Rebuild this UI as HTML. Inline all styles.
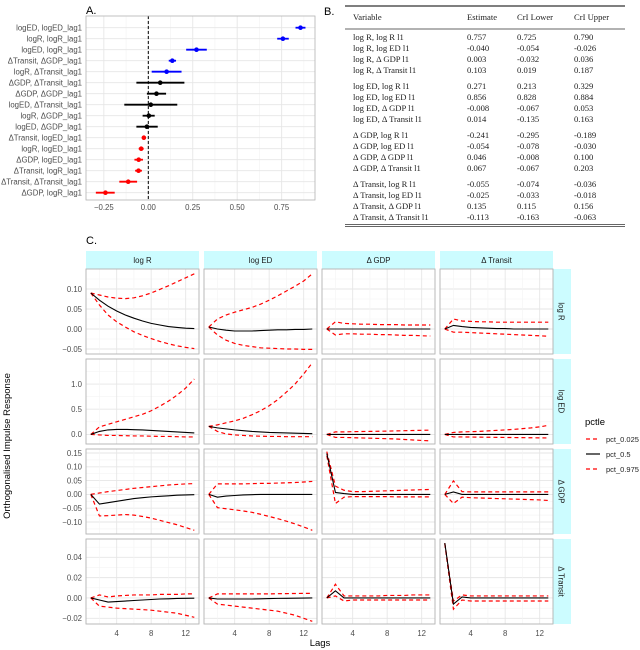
<!DOCTYPE html>
<html><head><meta charset="utf-8">
<style>
html,body{margin:0;padding:0;background:#fff;}
svg{display:block;font-family:"Liberation Sans",sans-serif;}
.tbl{font-family:"Liberation Serif",serif;font-size:8.6px;fill:#222;}
</style></head>
<body>
<svg id="chart" width="640" height="650" viewBox="0 0 640 650" xmlns="http://www.w3.org/2000/svg">
<text x="86" y="14" font-size="11" fill="#000">A.</text>
<text x="324" y="15" font-size="11" fill="#000">B.</text>
<text x="86" y="244" font-size="11" fill="#000">C.</text>
<g id="panelA"></g>
<g id="panelB"></g>
<g id="panelC"></g>
<text x="0" y="0" transform="translate(10,446) rotate(-90)" text-anchor="middle" font-size="9.5" fill="#000">Orthogonalised Impulse Response</text>
<text x="320" y="646" text-anchor="middle" font-size="9.5" fill="#000">Lags</text>
<g>
<text x="585" y="425" font-size="9.5" fill="#000">pctle</text>
<line x1="586" y1="439" x2="600" y2="439" stroke="#ff0000" stroke-width="1.3" stroke-dasharray="4,3"/>
<text x="606" y="442" font-size="7.5" fill="#222">pct_0.025</text>
<line x1="586" y1="454" x2="600" y2="454" stroke="#000" stroke-width="1.2"/>
<text x="606" y="457" font-size="7.5" fill="#222">pct_0.5</text>
<line x1="586" y1="469" x2="600" y2="469" stroke="#ff0000" stroke-width="1.3" stroke-dasharray="4,3"/>
<text x="606" y="472" font-size="7.5" fill="#222">pct_0.975</text>
</g>
</svg>
<script>
// ---------- Panel A / B data ----------
const coefLabels = ["logED, logED_lag1","logR, logR_lag1","logED, logR_lag1","ΔTransit, ΔGDP_lag1","logR, ΔTransit_lag1","ΔGDP, ΔTransit_lag1","ΔGDP, ΔGDP_lag1","logED, ΔTransit_lag1","logR, ΔGDP_lag1","logED, ΔGDP_lag1","ΔTransit, logED_lag1","logR, logED_lag1","ΔGDP, logED_lag1","ΔTransit, logR_lag1","ΔTransit, ΔTransit_lag1","ΔGDP, logR_lag1"];
const coefEst = [0.856,0.757,0.271,0.135,0.103,0.067,0.046,0.014,0.003,-0.008,-0.025,-0.040,-0.054,-0.055,-0.113,-0.241];
const coefLow = [0.828,0.725,0.213,0.115,0.019,-0.067,-0.008,-0.135,-0.032,-0.067,-0.033,-0.054,-0.078,-0.074,-0.163,-0.295];
const coefHigh = [0.884,0.790,0.329,0.156,0.187,0.203,0.100,0.163,0.036,0.053,-0.018,-0.026,-0.030,-0.036,-0.063,-0.189];
const coefTicks = [-0.25,0,0.25,0.5,0.75];
const coefTickLabels = ["−0.25","0.00","0.25","0.50","0.75"];

const tableVars = ["log R, log R l1","log R, log ED l1","log R, Δ GDP l1","log R, Δ Transit l1","log ED, log R l1","log ED, log ED l1","log ED, Δ GDP l1","log ED, Δ Transit l1","Δ GDP, log R l1","Δ GDP, log ED l1","Δ GDP, Δ GDP l1","Δ GDP, Δ Transit l1","Δ Transit, log R l1","Δ Transit, log ED l1","Δ Transit, Δ GDP l1","Δ Transit, Δ Transit l1"];
const tableEst = ["0.757","-0.040","0.003","0.103","0.271","0.856","-0.008","0.014","-0.241","-0.054","0.046","0.067","-0.055","-0.025","0.135","-0.113"];
const tableLow = ["0.725","-0.054","-0.032","0.019","0.213","0.828","-0.067","-0.135","-0.295","-0.078","-0.008","-0.067","-0.074","-0.033","0.115","-0.163"];
const tableHigh = ["0.790","-0.026","0.036","0.187","0.329","0.884","0.053","0.163","-0.189","-0.030","0.100","0.203","-0.036","-0.018","0.156","-0.063"];

// ---------- Panel C data (rows = response, cols = impulse) ----------
const lags = [1,2,3,4,5,6,7,8,9,10,11,12,13];
const impulseNames = ["log R","log ED","Δ GDP","Δ Transit"];
const responseNames = ["log R","log ED","Δ GDP","Δ Transit"];
const rowTicks = [[-0.05,0,0.05,0.10],[0,0.5,1.0],[-0.10,-0.05,0,0.05,0.10,0.15],[-0.02,0,0.02,0.04]];
const rowTickLabels = [["−0.05","0.00","0.05","0.10"],["0.0","0.5","1.0"],["−0.10","−0.05","0.00","0.05","0.10","0.15"],["−0.02","0.00","0.02","0.04"]];
const rowDomains = [[-0.0625,0.15],[-0.19,1.497],[-0.1435,0.1645],[-0.0256,0.058]];
const xTicks = [4,8,12];

const irfMedian = [
 [[0.09,0.072,0.057,0.045,0.035,0.027,0.02,0.014,0.01,0.006,0.004,0.002,0.001],
  [0.005,0,-0.003,-0.005,-0.005,-0.005,-0.004,-0.003,-0.002,-0.002,-0.001,-0.001,0],
  [0,0,0,0,0,0,0,0,0,0,0,0,0],
  [0,0.009,0.006,0.004,0.003,0.002,0.001,0.001,0,0,0,0,0]],
 [[0,0.06,0.09,0.1,0.1,0.095,0.09,0.08,0.07,0.06,0.05,0.04,0.03],
  [0.16,0.13,0.11,0.09,0.075,0.06,0.05,0.04,0.035,0.03,0.025,0.02,0.015],
  [0,0,0,0,0,0,0,0,0,0,0,0,0],
  [0,0,0,0,0,0,0,0,0,0,0,0,0]],
 [[0,-0.035,-0.03,-0.025,-0.02,-0.015,-0.012,-0.009,-0.007,-0.005,-0.003,-0.002,-0.001],
  [0,-0.01,-0.006,-0.004,-0.002,-0.001,0,0,0,0,0,0,0],
  [0.148,0.007,0.003,0,0,0,0,0,0,0,0,0,0],
  [0,0.009,0,0,0,0,0,0,0,0,0,0,0]],
 [[0,-0.002,-0.004,-0.0035,-0.003,-0.0025,-0.002,-0.0015,-0.001,-0.0008,-0.0005,-0.0003,-0.0002],
  [0,-0.001,-0.001,-0.001,-0.001,-0.001,-0.0008,-0.0006,-0.0004,-0.0003,-0.0002,-0.0001,0],
  [0,0.007,0,0,0,0,0,0,0,0,0,0,0],
  [0.054,-0.006,0.001,0,0,0,0,0,0,0,0,0,0]]
];
const irfUpper = [
 [[0.09,0.085,0.08,0.077,0.076,0.078,0.083,0.09,0.099,0.108,0.118,0.128,0.138],
  [0.005,0.025,0.035,0.042,0.048,0.054,0.062,0.072,0.083,0.095,0.107,0.12,0.138],
  [0,0.018,0.014,0.013,0.012,0.012,0.011,0.011,0.011,0.01,0.01,0.01,0.01],
  [0,0.025,0.02,0.019,0.018,0.018,0.017,0.017,0.017,0.017,0.017,0.017,0.017]],
 [[0,0.15,0.2,0.25,0.3,0.35,0.4,0.47,0.56,0.66,0.78,0.92,1.1],
  [0.16,0.19,0.23,0.27,0.32,0.39,0.47,0.57,0.69,0.84,1.0,1.2,1.42],
  [0,0.05,0.05,0.055,0.058,0.06,0.063,0.066,0.07,0.074,0.078,0.082,0.085],
  [0,0.04,0.05,0.055,0.06,0.07,0.08,0.09,0.1,0.115,0.13,0.15,0.18]],
 [[0,0.005,0.01,0.014,0.018,0.022,0.025,0.028,0.031,0.034,0.036,0.038,0.039],
  [0,0.038,0.038,0.038,0.038,0.039,0.04,0.04,0.041,0.042,0.043,0.045,0.047],
  [0.155,0.03,0.015,0.01,0.01,0.011,0.012,0.013,0.014,0.015,0.016,0.017,0.018],
  [0,0.049,0.01,0.009,0.009,0.009,0.009,0.009,0.009,0.009,0.009,0.009,0.009]],
 [[0,0.003,0.001,0.002,0.0025,0.003,0.003,0.003,0.0035,0.0035,0.0035,0.004,0.004],
  [0,0.004,0.004,0.004,0.004,0.004,0.004,0.004,0.0042,0.0043,0.0044,0.0045,0.0045],
  [0,0.0135,0.002,0.002,0.002,0.002,0.002,0.0025,0.0025,0.0025,0.003,0.003,0.003],
  [0.054,-0.003,0.003,0.002,0.002,0.002,0.002,0.002,0.002,0.002,0.002,0.002,0.002]]
];
const irfLower = [
 [[0.09,0.06,0.035,0.018,0.005,-0.007,-0.016,-0.024,-0.031,-0.037,-0.042,-0.046,-0.049],
  [0.005,-0.015,-0.028,-0.036,-0.041,-0.044,-0.047,-0.048,-0.049,-0.05,-0.05,-0.051,-0.051],
  [0,-0.015,-0.012,-0.012,-0.013,-0.013,-0.014,-0.014,-0.015,-0.016,-0.016,-0.017,-0.0175],
  [0,-0.008,-0.008,-0.009,-0.01,-0.011,-0.012,-0.013,-0.014,-0.015,-0.016,-0.017,-0.018]],
 [[0,-0.01,-0.02,-0.02,-0.025,-0.03,-0.03,-0.035,-0.04,-0.04,-0.045,-0.05,-0.05],
  [0.16,0.06,0.01,-0.01,-0.02,-0.03,-0.035,-0.04,-0.04,-0.045,-0.045,-0.045,-0.045],
  [0,-0.06,-0.06,-0.065,-0.07,-0.075,-0.08,-0.085,-0.09,-0.1,-0.11,-0.12,-0.127],
  [0,-0.05,-0.05,-0.052,-0.054,-0.056,-0.058,-0.06,-0.062,-0.064,-0.066,-0.068,-0.07]],
 [[0,-0.078,-0.077,-0.075,-0.073,-0.075,-0.08,-0.086,-0.094,-0.102,-0.11,-0.12,-0.13],
  [0,-0.048,-0.052,-0.056,-0.06,-0.065,-0.072,-0.08,-0.088,-0.097,-0.107,-0.118,-0.13],
  [0.14,-0.033,-0.01,-0.008,-0.008,-0.008,-0.008,-0.008,-0.009,-0.009,-0.009,-0.009,-0.009],
  [0,-0.033,-0.01,-0.012,-0.013,-0.014,-0.015,-0.016,-0.017,-0.018,-0.019,-0.02,-0.022]],
 [[0,-0.008,-0.009,-0.01,-0.0105,-0.011,-0.0115,-0.012,-0.013,-0.014,-0.015,-0.017,-0.019],
  [0,-0.006,-0.007,-0.008,-0.009,-0.01,-0.011,-0.012,-0.013,-0.015,-0.017,-0.02,-0.023],
  [0,0.002,-0.003,-0.002,-0.002,-0.002,-0.002,-0.002,-0.002,-0.002,-0.002,-0.002,-0.002],
  [0.053,-0.011,-0.002,-0.003,-0.003,-0.003,-0.003,-0.003,-0.003,-0.003,-0.003,-0.003,-0.003]]
];

const NS = "http://www.w3.org/2000/svg";
function mk(tag, attrs, parent, txt) {
  const e = document.createElementNS(NS, tag);
  for (const k in attrs) e.setAttribute(k, attrs[k]);
  if (txt !== undefined) e.textContent = txt;
  parent.appendChild(e);
  return e;
}

// ---------- Panel A ----------
(function(){
  const g = document.getElementById('panelA');
  const L = 86, R = 315, T = 16, B = 200;
  const xA = v => 148.3 + v * 177.8;
  const yA = i => 27.7 + i * 11;
  let bg = mk('rect', {x:L, y:T, width:R-L, height:B-T, fill:'#fff'}, g);
  
  
  for (let k = 0; k < coefTicks.length; k++) {
    const v = coefTicks[k];
    let gl = mk('line', {x1:xA(v), x2:xA(v), y1:T, y2:B, stroke:'#e6e6e6', 'stroke-width':0.9}, g);
    
    
    let mn = mk('line', {x1:xA(v+0.125), x2:xA(v+0.125), y1:T, y2:B, stroke:'#f2f2f2', 'stroke-width':0.6}, g);
    
    
    let tl = mk('text', {x:xA(v), y:210, 'text-anchor':'middle', 'font-size':7.8, fill:'#4d4d4d'}, g, coefTickLabels[k]);
    
    
  }
  for (let i = 0; i < coefLabels.length; i++) {
    let gl = mk('line', {x1:L, x2:R, y1:yA(i), y2:yA(i), stroke:'#e6e6e6', 'stroke-width':0.9}, g);
    
    
    let lb = mk('text', {x:82, y:yA(i)+2.8, 'text-anchor':'end', 'font-size':7.8, fill:'#4d4d4d'}, g, coefLabels[i]);
    
    
  }
  let zl = mk('line', {x1:xA(0), x2:xA(0), y1:T, y2:B, stroke:'#000', 'stroke-width':1, 'stroke-dasharray':'3,2'}, g);
  
  
  for (let i = 0; i < coefEst.length; i++) {
    const col = coefLow[i] > 0 ? '#0000ff' : (coefHigh[i] < 0 ? '#ff0000' : '#000');
    let eb = mk('line', {x1:xA(coefLow[i]), x2:xA(coefHigh[i]), y1:yA(i), y2:yA(i), stroke:col, 'stroke-width':1.8}, g);
    
    
    let pt = mk('circle', {cx:xA(coefEst[i]), cy:yA(i), r:2.3, fill:col}, g);
    
    
  }
  let bd = mk('rect', {x:L, y:T, width:R-L, height:B-T, fill:'none', stroke:'#b3b3b3', 'stroke-width':0.8}, g);
  
  
})();

// ---------- Panel B ----------
(function(){
  const g = document.getElementById('panelB');
  const L = 345, R = 625;
  const colX = [353, 467, 517, 574];
  let r1 = mk('line', {x1:L, x2:R, y1:6, y2:6, stroke:'#333', 'stroke-width':1.3}, g);
  
  
  let r2 = mk('line', {x1:L, x2:R, y1:29, y2:29, stroke:'#333', 'stroke-width':0.7}, g);
  
  
  let r3 = mk('line', {x1:L, x2:R, y1:224.5, y2:224.5, stroke:'#333', 'stroke-width':0.8}, g);
  
  
  let r4 = mk('line', {x1:L, x2:R, y1:226.5, y2:226.5, stroke:'#333', 'stroke-width':0.8}, g);
  
  
  const hdr = ["Variable","Estimate","CrI Lower","CrI Upper"];
  for (let c = 0; c < 4; c++) {
    let h = mk('text', {x:colX[c], y:20, class:'tbl'}, g, hdr[c]);
    
    
  }
  for (let i = 0; i < tableVars.length; i++) {
    const y = 40 + i * 11 + Math.floor(i / 4) * 5;
    const vals = [tableVars[i], tableEst[i], tableLow[i], tableHigh[i]];
    for (let c = 0; c < 4; c++) {
      let t = mk('text', {x:colX[c], y:y, class:'tbl'}, g, vals[c]);
      
      
    }
  }
})();

// ---------- Panel C ----------
(function(){
  const g = document.getElementById('panelC');
  const colL = [86, 204, 322, 440];
  const W = 113, H = 85;
  const rowT = [269, 359, 449, 539];
  // column strips
  for (let c = 0; c < 4; c++) {
    let s = mk('rect', {x:colL[c], y:251, width:W, height:18, fill:'#ccfcff'}, g);
    
    
    let st = mk('text', {x:colL[c]+W/2, y:263, 'text-anchor':'middle', 'font-size':7.8, fill:'#1a1a1a'}, g, impulseNames[c]);
    
    
    for (const t of xTicks) {
      const xx = colL[c] + 4.8 + (t - 1) * 8.625;
      let tl = mk('text', {x:xx, y:636, 'text-anchor':'middle', 'font-size':7.8, fill:'#4d4d4d'}, g, String(t));
      
      
    }
  }
  for (let r = 0; r < 4; r++) {
    const top = rowT[r], dom = rowDomains[r];
    const yS = v => top + H - (v - dom[0]) / (dom[1] - dom[0]) * H;
    let s = mk('rect', {x:552, y:top, width:19, height:H, fill:'#ccfcff'}, g);
    
    
    let st = mk('text', {x:0, y:0, transform:'translate(558.5,'+(top+H/2)+') rotate(90)', 'text-anchor':'middle', 'font-size':7.8, fill:'#1a1a1a'}, g, responseNames[r]);
    
    
    const ticks = rowTicks[r];
    const step = ticks[1] - ticks[0];
    for (let k = 0; k < ticks.length; k++) {
      let tl = mk('text', {x:82, y:yS(ticks[k])+2.8, 'text-anchor':'end', 'font-size':7.8, fill:'#4d4d4d'}, g, rowTickLabels[r][k]);
      
      
    }
    for (let c = 0; c < 4; c++) {
      const L = colL[c];
      const xS = lag => L + 4.8 + (lag - 1) * 8.625;
      let bg = mk('rect', {x:L, y:top, width:W, height:H, fill:'#fff'}, g);
      
      
      // minor & major y gridlines
      for (let v = ticks[0] - step; v <= ticks[ticks.length-1] + step + 1e-9; v += step / 2) {
        const yy = yS(v);
        if (yy < top || yy > top + H) continue;
        const major = Math.abs(Math.round((v - ticks[0]) / step) - (v - ticks[0]) / step) < 1e-6;
        let gl = mk('line', {x1:L, x2:L+W, y1:yy, y2:yy, stroke: major ? '#e6e6e6' : '#f3f3f3', 'stroke-width': major ? 0.9 : 0.6}, g);
        
        
      }
      for (let t = 2; t <= 12; t += 2) {
        let gl = mk('line', {x1:xS(t), x2:xS(t), y1:top, y2:top+H, stroke: t % 4 === 0 ? '#e6e6e6' : '#f3f3f3', 'stroke-width': t % 4 === 0 ? 0.9 : 0.6}, g);
        
        
      }
      const series = [[irfLower[r][c], 'lower'], [irfUpper[r][c], 'upper'], [irfMedian[r][c], 'median']];
      for (const [vals, nm] of series) {
        const d = vals.map((v, i) => (i ? 'L' : 'M') + xS(lags[i]).toFixed(2) + ',' + yS(v).toFixed(2)).join(' ');
        const attrs = nm === 'median'
          ? {d:d, fill:'none', stroke:'#000', 'stroke-width':1.1}
          : {d:d, fill:'none', stroke:'#ff0000', 'stroke-width':1.2, 'stroke-dasharray':'4,3'};
        let p = mk('path', attrs, g);
        
        
      }
      let bd = mk('rect', {x:L, y:top, width:W, height:H, fill:'none', stroke:'#b3b3b3', 'stroke-width':0.9}, g);
      
      
    }
  }
})();
</script>
</body></html>
